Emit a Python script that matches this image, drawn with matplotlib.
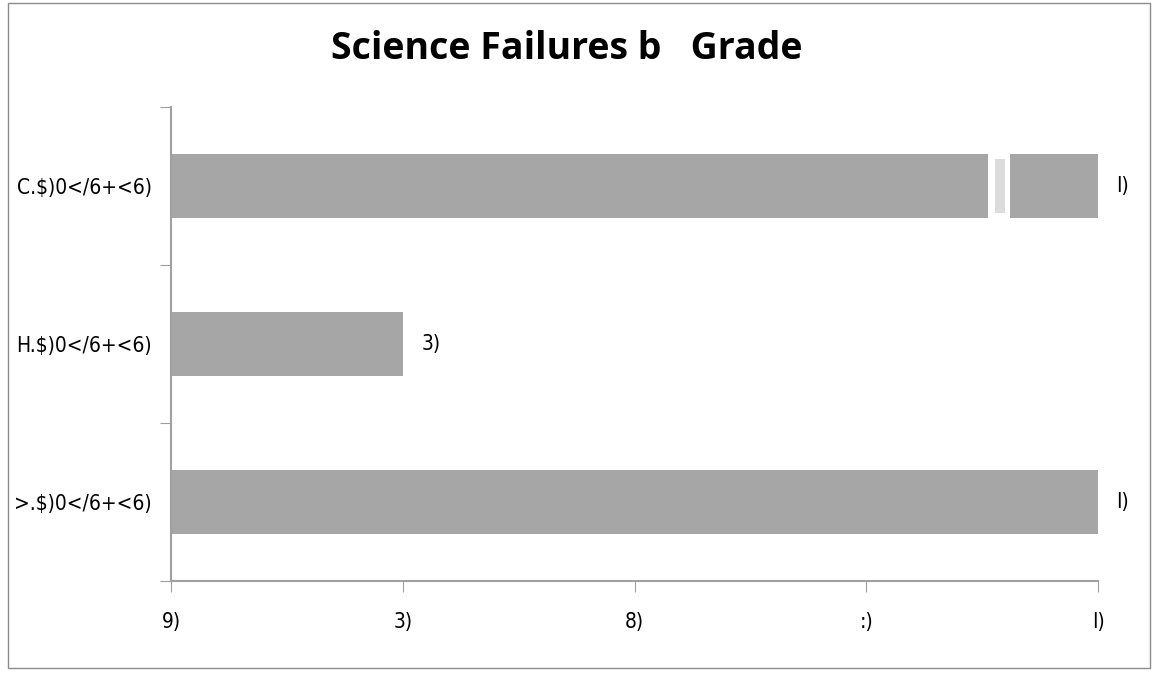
import matplotlib.pyplot as plt
from matplotlib import font_manager
from matplotlib.patches import Rectangle

# categories bottom to top (text kept as it appears in the source)
categories = [">.$)0</6+<6)", "H.$)0</6+<6)", "C.$)0</6+<6)"]
values = [4, 1, 4]
value_labels = ["I)", "3)", "I)"]
x_ticks = [0, 1, 2, 3, 4]
x_tick_labels = ["9)", "3)", "8)", ":)", "I)"]

# small break in the top bar
break_start = 3.525
break_end = 3.62
light_start = 3.556
light_end = 3.599

BAR_COLOR = "#a6a6a6"
AXIS_COLOR = "#a0a0a0"

narrow = font_manager.FontProperties(family="DejaVu Sans", stretch="condensed", size=15)

fig = plt.figure(figsize=(11.59, 6.76), dpi=100)
ax = fig.add_axes([171 / 1159, 1 - 581 / 676, (1098 - 171) / 1159, (581 - 107) / 676])

ypos = list(range(len(categories)))
ax.barh(ypos, values, height=0.4, color=BAR_COLOR, zorder=2)

top = ypos[-1]
ax.barh(top, break_end - break_start, left=break_start, height=0.44, color="white", zorder=3)
ax.barh(top, light_end - light_start, left=light_start, height=0.34, color="#dcdcdc", zorder=4)

for y, v, lab in zip(ypos, values, value_labels):
    ax.text(v + 0.08, y, lab, va="center", ha="left", fontproperties=narrow)

ax.set_xlim(0, 4)
ax.set_ylim(-0.5, 2.5)
ax.set_xticks(x_ticks)
ax.set_xticklabels(x_tick_labels, fontproperties=narrow)
ax.set_yticks([-0.5, 0.5, 1.5, 2.5], minor=False)
ax.set_yticklabels([])
ax.set_yticks(ypos, minor=True)
ax.set_yticklabels(categories, minor=True, fontproperties=narrow)

ax.tick_params(axis="x", length=8, color=AXIS_COLOR, pad=14)
ax.tick_params(axis="y", which="major", length=8, color=AXIS_COLOR)
ax.tick_params(axis="y", which="minor", length=0, pad=14)

for side in ["top", "right"]:
    ax.spines[side].set_visible(False)
for side in ["left", "bottom"]:
    ax.spines[side].set_color(AXIS_COLOR)
    ax.spines[side].set_linewidth(1.5)

fig.text(567 / 1159, 1 - 49 / 676, "Science Failures b   Grade", ha="center", va="center",
         fontsize=27, fontweight="bold", family=["Open Sans", "DejaVu Sans"])

fig.patches.append(Rectangle((8 / 1159, 1 - 668 / 676), (1150 - 8) / 1159, (668 - 3) / 676,
                             transform=fig.transFigure, fill=False, edgecolor="#8c8c8c",
                             linewidth=1))

fig.savefig("out.png", dpi=100)
